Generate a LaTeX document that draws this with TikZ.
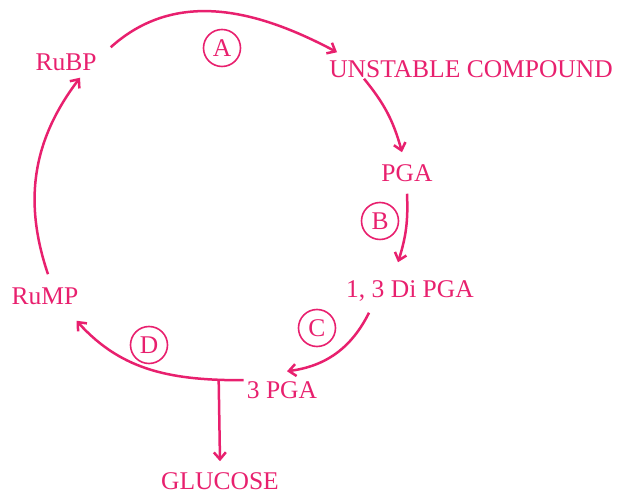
\documentclass[tikz,border=0pt]{standalone}
\usepackage{fontspec}
\setmainfont{Liberation Serif}
\usetikzlibrary{arrows.meta}
\definecolor{calvinpink}{RGB}{232,32,110}
\tikzstyle{chem}=[text=calvinpink,font=\fontsize{25.5}{28}\selectfont,inner sep=0pt,text height=17pt,text depth=0pt]
\tikzstyle{stage}=[circle,draw=calvinpink,line width=1.6pt,text=calvinpink,font=\fontsize{25.5}{28}\selectfont,minimum size=37pt,inner sep=0pt]

\begin{document}
\begin{tikzpicture}[x=1pt,y=1pt,->,>={Straight Barb[length=7pt,width=12pt]},line width=2.5pt,color=calvinpink]
\useasboundingbox (0,0) rectangle (624,495);
% compounds of the cycle
\node[chem] (rubp) at (66,433) {RuBP};
\node[chem] (unstable) at (471,426) {UNSTABLE COMPOUND};
\node[chem] (pga) at (407,322) {PGA};
\node[chem] (dipga) at (410,206) {1, 3 Di PGA};
\node[chem] (tpga) at (282,105) {3 PGA};
\node[chem] (rump) at (45,199) {RuMP};
\node[chem] (glucose) at (220,14) {GLUCOSE};
% circled steps
\foreach \name/\x/\y in {A/222/447, B/380/274, C/317/167, D/149/150}
  \node[stage] (s-\name) at (\x,\y) {\name};
% arrows
\draw ([xshift=13pt,yshift=5pt]rubp.north east) to[out=42,in=152] ([xshift=9pt,yshift=7pt]unstable.north west);
\draw ([xshift=36pt]unstable.south west) to[bend left=12] ([xshift=-5pt,yshift=11pt]pga.north);
\draw ([yshift=-11pt]pga.south) to[bend left=10] ([xshift=-12pt,yshift=17pt]dipga.north);
\draw ([xshift=24pt,yshift=-14pt]dipga.south west) to[bend left=28] ([xshift=5pt,yshift=9pt]tpga.north);
\draw ([xshift=-2pt]tpga.north west) to[out=180,in=-48] ([xshift=-3pt,yshift=-15pt]rump.south east);
\coordinate (fork) at ([xshift=-27pt]tpga.north west);
\draw (fork) -- ([yshift=10pt]glucose.north);
\draw ([xshift=3pt,yshift=12pt]rump.north) to[bend left=28] ([xshift=14pt,yshift=-6pt]rubp.south);
\end{tikzpicture}
\end{document}
